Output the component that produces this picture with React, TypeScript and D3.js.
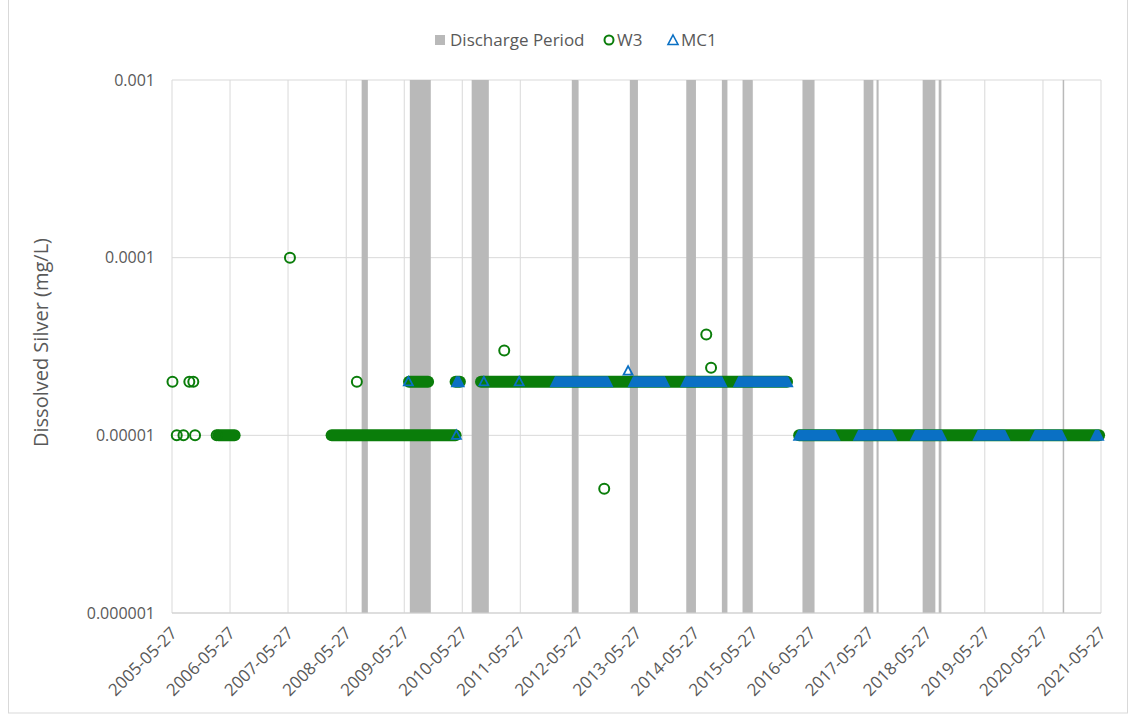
import * as d3 from 'd3'

const xTickLabels = [
  '2005-05-27', '2006-05-27', '2007-05-27', '2008-05-27', '2009-05-27', '2010-05-27',
  '2011-05-27', '2012-05-27', '2013-05-27', '2014-05-27', '2015-05-27', '2016-05-27',
  '2017-05-27', '2018-05-27', '2019-05-27', '2020-05-27', '2021-05-27',
]
const yTickValues = [0.000001, 0.00001, 0.0001, 0.001]
const yTickLabels = ['0.000001', '0.00001', '0.0001', '0.001']

// discharge periods [start, end]
const dischargePeriods: [string, string][] = [
  ['2008-09-01', '2008-10-10'],
  ['2009-07-01', '2009-11-10'],
  ['2010-07-25', '2010-11-10'],
  ['2012-04-15', '2012-05-25'],
  ['2013-04-15', '2013-06-05'],
  ['2014-04-05', '2014-06-05'],
  ['2014-11-15', '2014-12-20'],
  ['2015-03-25', '2015-05-27'],
  ['2016-04-05', '2016-06-20'],
  ['2017-04-25', '2017-06-25'],
  ['2017-07-15', '2017-07-28'],
  ['2018-05-01', '2018-07-20'],
  ['2018-08-10', '2018-08-27'],
  ['2020-09-28', '2020-10-06'],
]

// W3 single samples [date, mg/L]
const w3Points: [string, number][] = [
  ['2005-05-30', 0.00002], ['2005-06-26', 0.00001], ['2005-08-07', 0.00001],
  ['2005-09-13', 0.00002], ['2005-10-08', 0.00002], ['2005-10-19', 0.00001],
  ['2006-03-04', 0.00001], ['2007-06-08', 0.0001], ['2008-08-02', 0.00002],
  ['2011-02-15', 0.00003], ['2012-11-05', 0.000005], ['2014-08-09', 0.000037],
  ['2014-09-08', 0.000024],
]
// W3 runs of frequent samples at the same value [first, last, mg/L]
const w3Runs: [string, string, number][] = [
  ['2006-03-15', '2006-06-25', 0.00001],
  ['2008-02-25', '2010-04-15', 0.00001],
  ['2009-06-26', '2009-10-24', 0.00002],
  ['2010-04-15', '2010-05-12', 0.00002],
  ['2010-09-22', '2015-12-30', 0.00002],
  ['2016-03-15', '2021-05-15', 0.00001],
]

// MC1 single samples
const mc1Points: [string, number][] = [
  ['2009-06-22', 0.00002], ['2010-04-20', 0.00001], ['2010-10-10', 0.00002],
  ['2011-05-20', 0.00002], ['2013-04-04', 0.000023],
]
// MC1 runs
const mc1Runs: [string, string, number][] = [
  ['2010-04-18', '2010-05-10', 0.00002],
  ['2011-12-31', '2012-11-29', 0.00002],
  ['2013-05-05', '2013-11-22', 0.00002],
  ['2014-03-31', '2014-11-17', 0.00002],
  ['2015-02-26', '2016-01-06', 0.00002],
  ['2016-03-09', '2016-10-28', 0.00001],
  ['2017-03-22', '2017-10-20', 0.00001],
  ['2018-03-15', '2018-08-30', 0.00001],
  ['2019-04-13', '2019-10-02', 0.00001],
  ['2020-04-06', '2020-09-24', 0.00001],
  ['2021-04-20', '2021-05-15', 0.00001],
]

const W = 1134
const H = 719
const left = 172
const right = 1101
const top = 80
const bottom = 613

const green = '#0a7d0a'
const blue = '#0a70c4'
const barGray = '#b9b9b9'
const gridGray = '#d9d9d9'
const textGray = '#595959'
const font = '"Open Sans", sans-serif'

const parse = d3.timeParse('%Y-%m-%d')

export default function App() {
  const x = d3.scaleTime()
    .domain([parse(xTickLabels[0])!, parse(xTickLabels[xTickLabels.length - 1])!])
    .range([left, right])
  const y = d3.scaleLog().domain([0.000001, 0.001]).range([bottom, top])

  const tri = (cx: number, cy: number, s: number) =>
    `M${cx},${cy - s * 0.55}L${cx + s / 2},${cy + s * 0.4}L${cx - s / 2},${cy + s * 0.4}Z`

  return (
    <svg width={W} height={H} style={{ position: 'absolute', left: 0, top: 0 }} fontFamily={font}>
      <rect x={0} y={0} width={W} height={H} fill="white" />
      <rect x={8.5} y={-1} width={1119} height={714} fill="none" stroke={gridGray} />

      {/* gridlines */}
      {xTickLabels.map(t => (
        <line key={t} x1={x(parse(t)!)} x2={x(parse(t)!)} y1={top} y2={bottom} stroke={gridGray} />
      ))}
      {yTickValues.map(v => (
        <line key={v} x1={left} x2={right} y1={y(v)} y2={y(v)} stroke={gridGray} />
      ))}

      {/* discharge periods */}
      {dischargePeriods.map(([a, b]) => {
        const x0 = x(parse(a)!)
        const x1 = x(parse(b)!)
        return <rect key={a} x={x0} y={top} width={Math.max(1.5, x1 - x0)} height={bottom - top} fill={barGray} />
      })}
      <line x1={left} x2={right} y1={bottom} y2={bottom} stroke="#d0d0d0" />

      {/* W3 */}
      {w3Runs.map(([a, b, v]) => {
        const x0 = x(parse(a)!)
        const x1 = x(parse(b)!)
        return <rect key={a + v} x={x0 - 6} y={y(v) - 6} width={x1 - x0 + 12} height={12} rx={6} fill={green} />
      })}
      {w3Points.map(([d, v]) => (
        <circle key={d} cx={x(parse(d)!)} cy={y(v)} r={5} fill="none" stroke={green} strokeWidth={2} />
      ))}

      {/* MC1 */}
      {mc1Runs.map(([a, b, v]) => {
        const x0 = x(parse(a)!)
        const x1 = x(parse(b)!)
        const yc = y(v)
        return (
          <path key={a}
            d={`M${x0 - 5.5},${yc + 5.5}L${x0},${yc - 5.5}L${x1},${yc - 5.5}L${x1 + 5.5},${yc + 5.5}Z`}
            fill={blue} />
        )
      })}
      {mc1Points.map(([d, v]) => (
        <path key={d} d={tri(x(parse(d)!), y(v), 9)} fill="none" stroke={blue} strokeWidth={1.8} />
      ))}

      {/* y axis */}
      {yTickValues.map((v, i) => (
        <text key={v} x={155} y={y(v)} dy="0.35em" textAnchor="end" fontSize={16} fill={textGray}>
          {yTickLabels[i]}
        </text>
      ))}
      <text transform={`translate(48,${(top + bottom) / 2 - 4}) rotate(-90)`} textAnchor="middle"
        fontSize={20} fill={textGray}>Dissolved Silver (mg/L)</text>

      {/* x axis */}
      {xTickLabels.map(t => (
        <text key={t} transform={`translate(${x(parse(t)!) + 2},${bottom + 17}) rotate(-45)`}
          textAnchor="end" dy="0.35em" fontSize={17} fill={textGray}>{t}</text>
      ))}

      {/* legend */}
      <g fontSize={17} fill={textGray}>
        <rect x={435} y={35} width={10} height={10} fill={barGray} />
        <text x={450} y={40} dy="0.35em">Discharge Period</text>
        <circle cx={609} cy={40} r={4.5} fill="none" stroke={green} strokeWidth={2} />
        <text x={617} y={40} dy="0.35em">W3</text>
        <path d={tri(673, 40.5, 10)} fill="none" stroke={blue} strokeWidth={1.6} />
        <text x={681} y={40} dy="0.35em">MC1</text>
      </g>
    </svg>
  )
}
